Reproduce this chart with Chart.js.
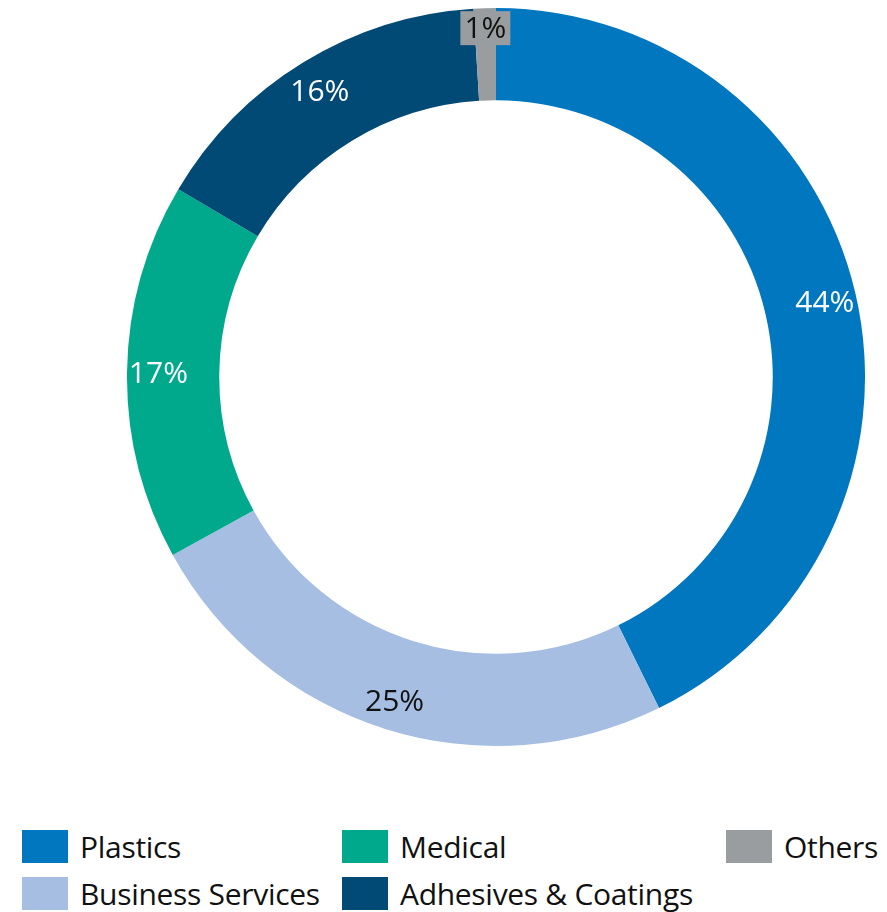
<!DOCTYPE html>
<html>
<head>
<meta charset="utf-8">
<script src="https://cdn.jsdelivr.net/npm/chart.js@4/dist/chart.umd.min.js"></script>
<style>
  html, body { margin: 0; padding: 0; background: #fff; }
  body { width: 887px; height: 912px; position: relative; overflow: hidden; font-family: "Open Sans", "Noto Sans", sans-serif; }
  #wrap { position: absolute; left: 127px; top: 8px; width: 738px; height: 738px; }
  #legend { position: absolute; left: 22px; top: 830px; display: grid; grid-auto-flow: column;
            grid-template-rows: 33px 33px; row-gap: 14px; grid-template-columns: 320px 384px auto; }
  .item { display: flex; align-items: center; height: 33px; }
  .box { width: 46px; height: 33px; margin-right: 12px; flex: none; }
  .txt { font-size: 30px; color: #111; white-space: nowrap; line-height: 33px; letter-spacing: -0.3px; }
</style>
</head>
<body>
<div id="wrap"><canvas id="c"></canvas></div>
<div id="legend"></div>
<script>
// Revenue share by segment (%)
const segments = ["Plastics", "Business Services", "Medical", "Adhesives & Coatings", "Others"];
const shares = [44, 25, 17, 16, 1];
const colors = ["#0077be", "#a7bee3", "#00a88c", "#004a75", "#9a9d9f"];
const labelColors = ["#ffffff", "#111111", "#ffffff", "#ffffff", "#111111"];

// Percentage labels drawn inside each ring segment
const sliceLabels = {
  id: "sliceLabels",
  afterDatasetsDraw(chart) {
    const ctx = chart.ctx;
    const meta = chart.getDatasetMeta(0);
    ctx.save();
    ctx.font = '30px "Open Sans", "Noto Sans", sans-serif';
    ctx.textAlign = "center";
    ctx.textBaseline = "middle";
    meta.data.forEach((arc, i) => {
      const p = arc.getProps(["x", "y", "startAngle", "endAngle", "innerRadius", "outerRadius"], true);
      const mid = (p.startAngle + p.endAngle) / 2;
      const small = (p.endAngle - p.startAngle) < 0.2;
      const r = small ? p.outerRadius - 20 : p.innerRadius + (p.outerRadius - p.innerRadius) * 0.66;
      const x = p.x + Math.cos(mid) * r;
      const y = p.y + Math.sin(mid) * r;
      const text = shares[i] + "%";
      if (small) {
        const w = ctx.measureText(text).width + 8;
        ctx.fillStyle = colors[i];
        ctx.fillRect(x - w / 2, y - 17, w, 34);
        ctx.fillStyle = labelColors[i];
        ctx.fillText(text, x, y + 1);
      } else {
        ctx.fillStyle = labelColors[i];
        ctx.fillText(text, x, y + 3);
      }
    });
    ctx.restore();
  }
};

const chart = new Chart(document.getElementById("c"), {
  type: "doughnut",
  data: {
    labels: segments,
    datasets: [{ data: shares, backgroundColor: colors, borderWidth: 0 }]
  },
  options: {
    responsive: true,
    maintainAspectRatio: false,
    animation: false,
    cutout: "75%",
    layout: { padding: 0 },
    plugins: { legend: { display: false }, tooltip: { enabled: false } }
  },
  plugins: [sliceLabels]
});

// Legend built from the chart's own label list
const legend = document.getElementById("legend");
chart.data.labels.forEach((name, i) => {
  const item = document.createElement("div");
  item.className = "item";
  const box = document.createElement("div");
  box.className = "box";
  box.style.background = colors[i];
  const txt = document.createElement("span");
  txt.className = "txt";
  txt.textContent = name;
  item.appendChild(box);
  item.appendChild(txt);
  legend.appendChild(item);
});
</script>
</body>
</html>
